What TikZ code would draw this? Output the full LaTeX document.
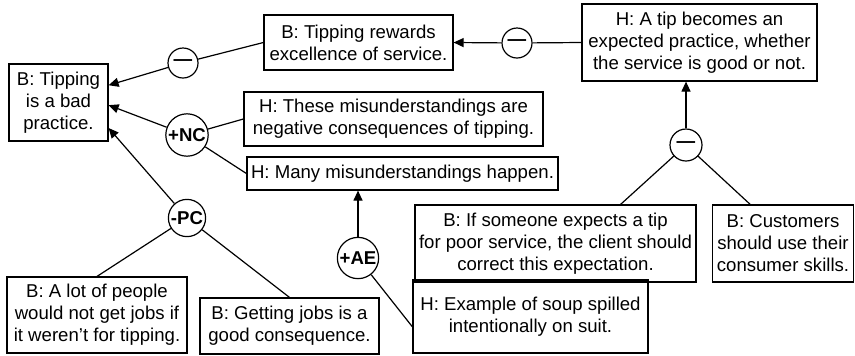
\documentclass[tikz,border=0pt]{standalone}
\usepackage{fontspec}
\setmainfont{Liberation Sans}
\usepackage{tikz}
\usetikzlibrary{arrows.meta}

\tikzset{
	claim/.style={draw, line width=0.6pt, align=center, inner sep=2pt, font=\fontsize{9.3}{11}\selectfont},
	rel/.style={circle, draw, line width=0.6pt, inner sep=0.5pt, minimum size=15pt, font=\fontsize{9.3}{11}\selectfont\bfseries},
	toward/.style={line width=0.6pt, -{Triangle[length=5pt,width=4.5pt]}},
	joins/.style={line width=0.6pt}
}

\begin{document}
\begin{tikzpicture}[x=0.5pt, y=-0.5pt]
	\useasboundingbox (0,0) rectangle (855,355);

	% claims
	\node[claim, minimum width=49.5pt, minimum height=38.5pt] (bad) at (58.5,102.5) {B: Tipping\\is a bad\\practice.};
	\node[claim, minimum width=94.5pt, minimum height=27.5pt] (rewards) at (358.5,42.5) {B: Tipping rewards\\excellence of service.};
	\node[claim, minimum width=149.5pt, minimum height=27pt] (negative) at (393.5,119) {H: These misunderstandings are\\negative consequences of tipping.};
	\node[claim, minimum width=155.5pt, minimum height=16.5pt] (many) at (402.5,173.5) {H: Many misunderstandings happen.};
	\node[claim, minimum width=117.5pt, minimum height=38.5pt] (expected) at (699.5,42.5) {H: A tip becomes an\\expected practice, whether\\the service is good or not.};
	\node[claim, minimum width=90pt, minimum height=38pt] (people) at (97,315) {B: A lot of people\\would not get jobs if\\it weren’t for tipping.};
	\node[claim, minimum width=89.5pt, minimum height=28pt] (jobs) at (289.5,326) {B: Getting jobs is a\\good consequence.};
	\node[claim, minimum width=117.5pt, minimum height=36.5pt] (soup) at (530.5,316.5) {H: Example of soup spilled\\intentionally on suit.};
	\node[claim, minimum width=140.5pt, minimum height=38.5pt] (correct) at (555.5,243.5) {B: If someone expects a tip\\for poor service, the client should\\correct this expectation.};
	\node[claim, minimum width=70pt, minimum height=38.5pt] (skills) at (783,243.5) {B: Customers\\should use their\\consumer skills.};

	% relation markers
	\node[rel] (minA) at (183,63) {\textemdash};
	\node[rel] (minB) at (517,43) {\textemdash};
	\node[rel, minimum size=16pt] (minC) at (686,145) {\textemdash};
	\node[rel, minimum size=19pt] (nc) at (187,135) {+NC};
	\node[rel, minimum size=18pt] (pc) at (187,218) {-PC};
	\node[rel, minimum size=19pt] (ae) at (358,258) {+AE};

	% connectors
	\draw[joins] (rewards.west) -- (minA);
	\draw[toward] (minA) -- (bad.19);
	\draw[joins] (expected.west) -- (minB);
	\draw[toward] (minB) -- (rewards.east);
	\draw[joins] (correct.31) -- (minC);
	\draw[joins] (skills.130) -- (minC);
	\draw[toward] (minC) -- (minC |- expected.south);
	\draw[joins] (negative.west) -- (nc);
	\draw[joins] (many.west) -- (nc);
	\draw[toward] (nc) -- (bad.-3);
	\draw[joins] (people.north) -- (pc);
	\draw[joins] (jobs.north) -- (pc);
	\draw[toward] (pc) -- (bad.-27);
	\draw[joins] (soup.185) -- (ae);
	\draw[toward] (ae) -- (ae |- many.south);
\end{tikzpicture}
\end{document}
